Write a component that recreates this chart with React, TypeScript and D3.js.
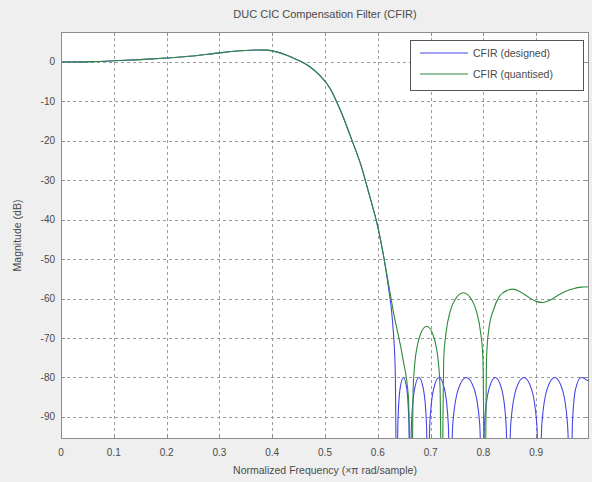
import React from "react";
import * as d3 from "d3";

const W = 592;
const H = 482;

const titleText = "DUC CIC Compensation Filter (CFIR)";
const xLabelText = "Normalized Frequency (\u00d7\u03c0 rad/sample)";
const yLabelText = "Magnitude (dB)";
const seriesNames = ["CFIR (designed)", "CFIR (quantised)"];
const seriesColors = ["#4646e6", "#2f8a3c"];

const xTicks = [0, 0.1, 0.2, 0.3, 0.4, 0.5, 0.6, 0.7, 0.8, 0.9];
const xTickLabels = ["0", "0.1", "0.2", "0.3", "0.4", "0.5", "0.6", "0.7", "0.8", "0.9"];
const yTicks = [0, -10, -20, -30, -40, -50, -60, -70, -80, -90];
const yTickLabels = ["0", "-10", "-20", "-30", "-40", "-50", "-60", "-70", "-80", "-90"];

// shared passband / transition (both filters identical here)
const passFreq = [0, 0.03, 0.06, 0.1, 0.15, 0.2, 0.25, 0.3, 0.34, 0.37, 0.39, 0.41, 0.43, 0.45, 0.47, 0.49, 0.51, 0.52, 0.53, 0.55, 0.57, 0.58, 0.59, 0.6, 0.61];
const passDb = [0, 0.02, 0.1, 0.3, 0.6, 1.0, 1.5, 2.3, 2.85, 3.05, 3.0, 2.5, 1.6, 0.4, -1.1, -3.4, -6.8, -9.5, -12.5, -19.5, -27, -31.8, -36.6, -41.8, -48.5];

// designed filter stopband (equiripple lobes at about -80 dB)
const designedFreq = [
  0.62, 0.628, 0.633, 0.636,
  0.638, 0.642, 0.6485, 0.655, 0.659, 0.661,
  0.6637, 0.6695, 0.678, 0.6865, 0.6923, 0.695,
  0.6984, 0.7055, 0.716, 0.7265, 0.7336, 0.737,
  0.7419, 0.7523, 0.7675, 0.7828, 0.7931, 0.798,
  0.8019, 0.8103, 0.8225, 0.8348, 0.8431, 0.847,
  0.8517, 0.8618, 0.8765, 0.8913, 0.9013, 0.906,
  0.9106, 0.9205, 0.935, 0.9495, 0.9594, 0.966,
  0.9685, 0.9745, 0.985, 1.0,
];
const designedDb = [
  -57, -66, -78, -115,
  -92, -83, -80, -83, -92, -115,
  -92, -83, -80, -83, -92, -115,
  -92, -83, -80, -83, -92, -115,
  -92, -83, -80, -83, -92, -115,
  -92, -83, -80, -83, -92, -115,
  -92, -83, -80, -83, -92, -115,
  -92, -83, -80, -83, -92, -115,
  -92, -83, -80, -81,
];

// quantised filter stopband
const quantFreq = [
  0.62, 0.629, 0.648, 0.658, 0.664,
  0.667, 0.6697, 0.6754, 0.6811, 0.6925, 0.7039, 0.7096, 0.7153, 0.718, 0.721,
  0.7251, 0.7292, 0.7374, 0.7456, 0.762, 0.7784, 0.7866, 0.7948, 0.7989, 0.803,
  0.806, 0.81, 0.82, 0.83, 0.845, 0.856, 0.87, 0.885, 0.9, 0.912, 0.925, 0.94, 0.955, 0.97, 0.985, 1.0,
];
const quantDb = [
  -56, -63, -75.6, -85, -115,
  -83, -77, -71.6, -68.9, -67, -68.9, -71.6, -77, -83, -115,
  -74.6, -68.7, -63.1, -60.4, -58.5, -60.4, -63.1, -68.7, -74.6, -115,
  -75, -68, -62.5, -59.5, -57.9, -57.6, -58.3, -59.6, -60.7, -61, -60.5, -59.3, -58.2, -57.5, -57.1, -57,
];

const M = { left: 61, right: 589, top: 32, bottom: 439 };

export default function App() {
  const x = d3.scaleLinear().domain([0, 1]).range([M.left, M.right]);
  const y = d3.scaleLinear().domain([-95.6, 7.6]).range([M.bottom, M.top]);

  const designed: [number, number][] = [
    ...passFreq.map((f, i) => [f, passDb[i]] as [number, number]),
    ...designedFreq.map((f, i) => [f, designedDb[i]] as [number, number]),
  ];
  const quant: [number, number][] = [
    ...passFreq.map((f, i) => [f, passDb[i]] as [number, number]),
    ...quantFreq.map((f, i) => [f, quantDb[i]] as [number, number]),
  ];

  const line = d3
    .line<[number, number]>()
    .x((d) => x(d[0]))
    .y((d) => y(d[1]))
    .curve(d3.curveMonotoneX);

  const font = "'Liberation Sans', Arial, Helvetica, sans-serif";
  const textColor = "#4a4a4a";
  const gridColor = "#8a8a8a";
  const axisColor = "#8c8c8c";

  const legendX = 410;
  const legendY = 40;

  return (
    <div style={{ position: "absolute", left: 0, top: 0, width: W, height: H }}>
      <svg width={W} height={H} style={{ display: "block" }}>
        <rect x={0} y={0} width={W} height={H} fill="#efefef" />
        <defs>
          <clipPath id="plotClip">
            <rect x={M.left} y={M.top} width={M.right - M.left} height={M.bottom - M.top} />
          </clipPath>
        </defs>
        <rect x={M.left} y={M.top} width={M.right - M.left} height={M.bottom - M.top} fill="#ffffff" />

        {/* grid */}
        <g stroke={gridColor} strokeWidth={1} strokeDasharray="3,3" opacity={0.85}>
          {xTicks.slice(1).map((t) => (
            <line key={"gx" + t} x1={Math.round(x(t)) + 0.5} x2={Math.round(x(t)) + 0.5} y1={M.top} y2={M.bottom} />
          ))}
          {yTicks.map((t) => (
            <line key={"gy" + t} x1={M.left} x2={M.right} y1={Math.round(y(t)) + 0.5} y2={Math.round(y(t)) + 0.5} />
          ))}
        </g>

        {/* tick marks */}
        <g stroke={axisColor} strokeWidth={1}>
          {xTicks.map((t) => (
            <g key={"tx" + t}>
              <line x1={Math.round(x(t)) + 0.5} x2={Math.round(x(t)) + 0.5} y1={M.bottom} y2={M.bottom - 4} />
              <line x1={Math.round(x(t)) + 0.5} x2={Math.round(x(t)) + 0.5} y1={M.top} y2={M.top + 4} />
            </g>
          ))}
          {yTicks.map((t) => (
            <g key={"ty" + t}>
              <line x1={M.left} x2={M.left + 4} y1={Math.round(y(t)) + 0.5} y2={Math.round(y(t)) + 0.5} />
              <line x1={M.right} x2={M.right - 4} y1={Math.round(y(t)) + 0.5} y2={Math.round(y(t)) + 0.5} />
            </g>
          ))}
        </g>

        {/* data */}
        <g clipPath="url(#plotClip)" fill="none" strokeWidth={1.1}>
          <path d={line(designed) || ""} stroke={seriesColors[0]} />
          <path d={line(quant) || ""} stroke={seriesColors[1]} />
        </g>

        {/* axes box */}
        <rect
          x={M.left + 0.5}
          y={M.top + 0.5}
          width={M.right - M.left - 1}
          height={M.bottom - M.top - 1}
          fill="none"
          stroke={axisColor}
          strokeWidth={1}
        />

        {/* tick labels */}
        <g fontFamily={font} fontSize={10} fill={textColor}>
          {xTicks.map((t, i) => (
            <text key={"lx" + t} x={x(t)} y={M.bottom + 17} textAnchor="middle">
              {xTickLabels[i]}
            </text>
          ))}
          {yTicks.map((t, i) => (
            <text key={"ly" + t} x={M.left - 6} y={y(t) + 3.5} textAnchor="end">
              {yTickLabels[i]}
            </text>
          ))}
        </g>

        {/* title and axis labels */}
        <text x={(M.left + M.right) / 2} y={18} textAnchor="middle" fontFamily={font} fontSize={11} fill={textColor}>
          {titleText}
        </text>
        <text x={(M.left + M.right) / 2} y={474} textAnchor="middle" fontFamily={font} fontSize={10.5} fill={textColor}>
          {xLabelText}
        </text>
        <text
          transform={`translate(21, ${(M.top + M.bottom) / 2}) rotate(-90)`}
          textAnchor="middle"
          fontFamily={font}
          fontSize={10.5}
          fill={textColor}
        >
          {yLabelText}
        </text>

        {/* legend */}
        <g>
          <rect x={legendX + 0.5} y={legendY + 0.5} width={173} height={50} fill="#ffffff" stroke="#555555" strokeWidth={1} />
          {seriesNames.map((name, i) => (
            <g key={name}>
              <line
                x1={legendX + 10}
                x2={legendX + 58}
                y1={legendY + 13 + i * 21}
                y2={legendY + 13 + i * 21}
                stroke={seriesColors[i]}
                strokeWidth={1.1}
              />
              <text x={legendX + 63} y={legendY + 17 + i * 21} fontFamily={font} fontSize={10.5} fill={textColor}>
                {name}
              </text>
            </g>
          ))}
        </g>
      </svg>
    </div>
  );
}
